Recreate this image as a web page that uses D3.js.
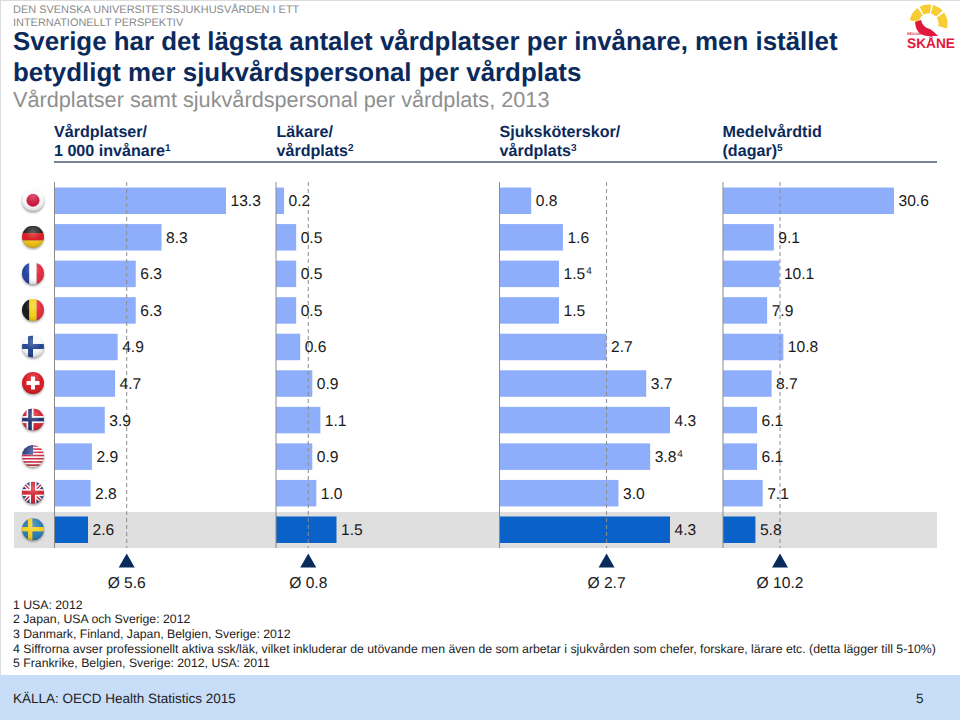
<!DOCTYPE html>
<html lang="sv"><head><meta charset="utf-8">
<script src="https://cdn.jsdelivr.net/npm/d3@7"></script>
<style>html,body{margin:0;padding:0;background:#fff}svg{display:block}text{font-family:"Liberation Sans",Arial,sans-serif;text-rendering:geometricPrecision}</style>
</head><body><svg id="c" width="960" height="720"></svg>
<script>
const countries=["Japan","Tyskland","Frankrike","Belgien","Finland","Schweiz","Norge","USA","Storbritannien","Sverige"];
const beds=[13.3,8.3,6.3,6.3,4.9,4.7,3.9,2.9,2.8,2.6];
const doctors=[0.2,0.5,0.5,0.5,0.6,0.9,1.1,0.9,1.0,1.5];
const nurses=[0.8,1.6,1.5,1.5,2.7,3.7,4.3,3.8,3.0,4.3];
const stay=[30.6,9.1,10.1,7.9,10.8,8.7,6.1,6.1,7.1,5.8];
const averages=[5.6,0.8,2.7,10.2];
const headers=[["Vårdplatser/","1 000 invånare","1"],["Läkare/","vårdplats","2"],["Sjuksköterskor/","vårdplats","3"],["Medelvårdtid","(dagar)","5"]];
const nurseNotes={"Frankrike":"4","USA":"4"};
const footnotes=["1 USA: 2012","2 Japan, USA och Sverige: 2012","3 Danmark, Finland, Japan, Belgien, Sverige: 2012","4 Siffrorna avser professionellt aktiva ssk/läk, vilket inkluderar de utövande men även de som arbetar i sjukvården som chefer, forskare, lärare etc. (detta lägger till 5-10%)","5 Frankrike, Belgien, Sverige: 2012, USA: 2011"];

const svg=d3.select("#c");
const NAVY="#0b2a5c",BAR="#8eaefb",HI="#0a62c9",INK="#1a1a1a";
svg.append("rect").attr("x",0).attr("y",0).attr("width",1).attr("height",675).attr("fill","#dcdcdc");
svg.append("rect").attr("x",0).attr("y",0).attr("width",960).attr("height",1).attr("fill","#dcdcdc");
const T=(x,y,s,size,fill,w)=>svg.append("text").attr("x",x).attr("y",y).attr("font-size",size).attr("fill",fill).attr("font-weight",w||400).text(s);

T(13,13.3,"DEN SVENSKA UNIVERSITETSSJUKHUSVÅRDEN I ETT",10.95,"#8a8a8a");
T(13,26,"INTERNATIONELLT PERSPEKTIV",10.95,"#8a8a8a");
T(13,49.5,"Sverige har det lägsta antalet vårdplatser per invånare, men istället",25.9,NAVY,700);
T(13,81,"betydligt mer sjukvårdspersonal per vårdplats",25.9,NAVY,700);
T(13,107,"Vårdplatser samt sjukvårdspersonal per vårdplats, 2013",21.7,"#8f8f8f");

const y=d3.scaleBand().domain(countries).range([182.5,548]).paddingInner(0.275).paddingOuter(0.1375);
const panels=[
 {vals:beds,x0:54.5,max:13.3,w:171.5,hx:54},
 {vals:doctors,x0:276,max:1.5,w:60.5,hx:276.5},
 {vals:nurses,x0:499.5,max:4.3,w:170.5,hx:499.5},
 {vals:stay,x0:723,max:30.6,w:171,hx:722.5}];
svg.append("rect").attr("x",14).attr("y",512).attr("width",923).attr("height",36).attr("fill","#dfdfdf");

panels.forEach((p,k)=>{
  const x=d3.scaleLinear().domain([0,p.max]).range([p.x0,p.x0+p.w]);
  const h=headers[k];
  T(p.hx,136.5,h[0],16.1,NAVY,700);
  const t=T(p.hx,156,h[1],16.1,NAVY,700);
  t.append("tspan").attr("font-size",10).attr("dy",-5.5).text(h[2]);
  const g=svg.append("g");
  const rows=countries.map((c,i)=>({c,v:p.vals[i]}));
  g.selectAll("rect").data(rows).join("rect")
    .attr("x",x(0)).attr("y",d=>y(d.c)).attr("height",y.bandwidth())
    .attr("width",d=>x(d.v)-x(0)).attr("fill",d=>d.c==="Sverige"?HI:BAR);
  g.append("line").attr("x1",x(0)).attr("x2",x(0)).attr("y1",182).attr("y2",548).attr("stroke","#8a8a8a").attr("stroke-width",1);
  const ax=x(averages[k]);
  g.append("line").attr("x1",ax).attr("x2",ax).attr("y1",182).attr("y2",548).attr("stroke","#8c8c8c").attr("stroke-width",1).attr("stroke-dasharray","4 3");
  g.selectAll("text.v").data(rows).join("text").attr("class","v")
    .attr("x",d=>x(d.v)+4.5).attr("y",d=>y(d.c)+y.bandwidth()/2+5.5)
    .attr("font-size",15.6).attr("fill",INK)
    .each(function(d){
      const s=d3.select(this);
      s.text(d.v.toFixed(1));
      if(k===2&&nurseNotes[d.c]) s.append("tspan").attr("font-size",10).attr("dy",-5).attr("dx",1).text(nurseNotes[d.c]);
    });
  svg.append("path").attr("d",`M${ax-8},567.5L${ax},553.5L${ax+8},567.5Z`).attr("fill",NAVY);
  svg.append("text").attr("x",ax).attr("y",588).attr("text-anchor","middle").attr("font-size",15.6).attr("fill",INK).text("Ø "+averages[k]);
});
svg.append("line").attr("x1",54).attr("x2",937).attr("y1",162).attr("y2",162).attr("stroke","#4a5d75").attr("stroke-width",1.5);

// flags
const defs=svg.append("defs");
const R=11;
const grad=defs.append("radialGradient").attr("id","gl").attr("cx","50%").attr("cy","30%").attr("r","70%");
grad.append("stop").attr("offset","0%").attr("stop-color","#fff").attr("stop-opacity",0.28);
grad.append("stop").attr("offset","55%").attr("stop-color","#fff").attr("stop-opacity",0.03);
grad.append("stop").attr("offset","100%").attr("stop-color","#000").attr("stop-opacity",0.18);
const shadow=defs.append("filter").attr("id","sh").attr("x","-30%").attr("y","-30%").attr("width","160%").attr("height","160%");
shadow.append("feGaussianBlur").attr("stdDeviation",1);
function rc(g,a,b,w,h,f){g.append("rect").attr("x",a).attr("y",b).attr("width",w).attr("height",h).attr("fill",f);}
const flagDraw={
 Japan:g=>{rc(g,-R,-R,2*R,2*R,"#fbfbfb");g.append("circle").attr("r",6.5).attr("fill","#c9103a");},
 Tyskland:g=>{rc(g,-R,-R,2*R,7.4,"#222");rc(g,-R,-3.7,2*R,7.4,"#d8151c");rc(g,-R,3.7,2*R,7.4,"#f3c20c");},
 Frankrike:g=>{rc(g,-R,-R,7.4,2*R,"#1c3f9e");rc(g,-3.7,-R,7.4,2*R,"#fff");rc(g,3.7,-R,7.4,2*R,"#e3263a");},
 Belgien:g=>{rc(g,-R,-R,7.4,2*R,"#111");rc(g,-3.7,-R,7.4,2*R,"#f5cf0e");rc(g,3.7,-R,7.4,2*R,"#e3263a");},
 Finland:g=>{rc(g,-R,-R,2*R,2*R,"#f6f8fb");rc(g,-R,-2.5,2*R,5,"#1c3f8c");rc(g,-5,-R,5,2*R,"#1c3f8c");},
 Schweiz:g=>{rc(g,-R,-R,2*R,2*R,"#d8141c");rc(g,-6.5,-2,13,4,"#fff");rc(g,-2,-6.5,4,13,"#fff");},
 Norge:g=>{rc(g,-R,-R,2*R,2*R,"#d3202f");rc(g,-R,-3.5,2*R,7,"#fff");rc(g,-6.5,-R,7,2*R,"#fff");rc(g,-R,-1.8,2*R,3.6,"#1c2f6e");rc(g,-4.8,-R,3.6,2*R,"#1c2f6e");},
 USA:g=>{rc(g,-R,-R,2*R,2*R,"#fff");d3.range(7).forEach(i=>rc(g,-R,-R+i*3.2,2*R,1.6,"#c8233a"));rc(g,-R,-R,11,9.5,"#2a3f86");},
 Storbritannien:g=>{rc(g,-R,-R,2*R,2*R,"#24357e");
   g.append("path").attr("d","M-11,-11L11,11M11,-11L-11,11").attr("stroke","#fff").attr("stroke-width",4);
   g.append("path").attr("d","M-11,-11L11,11M11,-11L-11,11").attr("stroke","#d3202f").attr("stroke-width",1.5);
   rc(g,-R,-3.5,2*R,7,"#fff");rc(g,-3.5,-R,7,2*R,"#fff");rc(g,-R,-2,2*R,4,"#d3202f");rc(g,-2,-R,4,2*R,"#d3202f");},
 Sverige:g=>{rc(g,-R,-R,2*R,2*R,"#2379b4");rc(g,-R,-2.2,2*R,4.4,"#f4cf1c");rc(g,-5,-R,4.4,2*R,"#f4cf1c");}
};
defs.append("clipPath").attr("id","fc").append("circle").attr("r",R);
countries.forEach(c=>{
  const cy=y(c)+y.bandwidth()/2-0.5;
  const outer=svg.append("g").attr("transform",`translate(33,${cy})`);
  outer.append("circle").attr("r",R).attr("cy",1.5).attr("fill","#555").attr("opacity",.55).attr("filter","url(#sh)");
  const g=outer.append("g").attr("clip-path","url(#fc)");
  flagDraw[c](g);
  outer.append("circle").attr("r",R).attr("fill","url(#gl)");
});

// footnotes
footnotes.forEach((f,i)=>T(13,608.5+i*14.7,f,12.28,"#222"));
svg.append("rect").attr("x",0).attr("y",675).attr("width",960).attr("height",45).attr("fill","#c8ddf8");
T(13,703,"KÄLLA: OECD Health Statistics 2015",13.5,"#222");
T(916,703,"5",13.5,"#222");

// logo
const Y="#f8cc35",D="#e2173d";
const deg=Math.PI/180;
const logo=svg.append("g").attr("transform","translate(928.5,23.5)");
const arc=d3.arc().innerRadius(10).outerRadius(19);
[[-80,-35],[-28,8],[14,48],[55,105]].forEach(a=>logo.append("path").attr("d",arc({startAngle:a[0]*deg,endAngle:a[1]*deg})).attr("fill",Y));
svg.append("path").attr("d","M915,22 L921,20 Q923,28 930,29 L934,32 L938,36 L927,36 Q916,35 915,22Z").attr("fill",D);
svg.append("text").attr("x",907).attr("y",48).attr("font-size",14).attr("font-weight",700).attr("fill",D).attr("textLength",48).attr("lengthAdjust","spacingAndGlyphs").text("SKÅNE");
svg.append("text").attr("x",907).attr("y",34.5).attr("font-size",3.5).attr("font-weight",700).attr("fill",D).text("REGION");
</script></body></html>
